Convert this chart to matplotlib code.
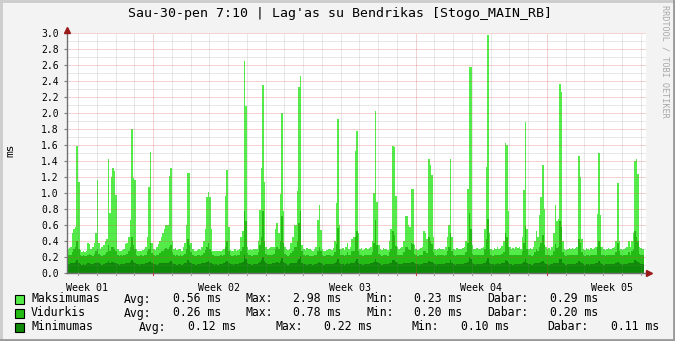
import numpy as np
import matplotlib
matplotlib.use("Agg")
import matplotlib.pyplot as plt
from matplotlib.patches import Rectangle
from matplotlib.lines import Line2D

# values every 2 hours (12 per day), one day per line
maksimumas = [
    0.30, 0.31, 0.33, 0.50, 0.55, 0.57, 1.59, 1.14, 0.29, 0.26, 0.27, 0.26,
    0.28, 0.37, 0.36, 0.30, 0.32, 0.38, 0.50, 1.16, 0.38, 0.30, 0.32, 0.35,
    0.40, 0.42, 1.43, 0.75, 1.20, 1.31, 1.28, 0.97, 0.30, 0.27, 0.28, 0.29,
    0.30, 0.36, 0.38, 0.45, 0.66, 1.80, 1.19, 1.16, 0.30, 0.27, 0.28, 0.28,
    0.29, 0.30, 0.32, 0.45, 1.07, 1.51, 0.38, 0.30, 0.29, 0.33, 0.36, 0.40,
    0.45, 0.50, 0.55, 0.60, 0.60, 1.21, 1.31, 0.40, 0.30, 0.31, 0.29, 0.30,
    0.30, 0.28, 0.33, 0.38, 0.60, 1.25, 1.25, 0.38, 0.30, 0.28, 0.27, 0.29,
    0.30, 0.29, 0.33, 0.40, 0.55, 0.95, 1.01, 0.95, 0.55, 0.28, 0.27, 0.28,
    0.28, 0.27, 0.28, 0.29, 0.30, 0.96, 1.29, 0.58, 0.29, 0.28, 0.28, 0.30,
    0.28, 0.29, 0.30, 0.45, 0.52, 2.65, 2.09, 0.32, 0.29, 0.30, 0.29, 0.30,
    0.30, 0.30, 0.40, 0.79, 1.31, 2.35, 1.14, 0.33, 0.30, 0.31, 0.32, 0.33,
    0.33, 0.55, 0.62, 0.50, 0.99, 2.00, 0.77, 0.33, 0.30, 0.29, 0.30, 0.38,
    0.45, 0.60, 0.60, 1.02, 2.32, 2.46, 0.35, 0.30, 0.29, 0.31, 0.30, 0.30,
    0.29, 0.28, 0.30, 0.32, 0.66, 0.85, 0.54, 0.30, 0.28, 0.28, 0.29, 0.30,
    0.30, 0.29, 0.31, 0.40, 0.88, 1.93, 0.60, 0.30, 0.31, 0.29, 0.33, 0.38,
    0.30, 0.33, 0.42, 0.45, 1.53, 1.77, 0.50, 0.30, 0.31, 0.29, 0.30, 0.31,
    0.30, 0.31, 0.33, 0.40, 1.00, 2.03, 0.89, 0.35, 0.30, 0.29, 0.31, 0.30,
    0.30, 0.29, 0.40, 0.55, 1.59, 1.57, 0.96, 0.32, 0.30, 0.31, 0.33, 0.40,
    0.71, 0.71, 0.60, 0.58, 1.05, 1.05, 0.35, 0.30, 0.29, 0.30, 0.31, 0.33,
    0.52, 0.50, 0.42, 1.42, 1.35, 1.23, 0.45, 0.30, 0.29, 0.30, 0.31, 0.30,
    0.30, 0.29, 0.32, 0.45, 0.60, 1.42, 0.45, 0.30, 0.29, 0.31, 0.30, 0.30,
    0.30, 0.31, 0.33, 0.40, 1.05, 2.57, 2.57, 0.35, 0.30, 0.30, 0.31, 0.30,
    0.30, 0.31, 0.33, 0.55, 1.32, 2.98, 0.50, 0.30, 0.29, 0.31, 0.30, 0.32,
    0.30, 0.31, 0.34, 0.40, 1.63, 1.60, 0.78, 0.32, 0.30, 0.31, 0.30, 0.33,
    0.31, 0.32, 0.30, 0.45, 1.04, 1.89, 0.55, 0.30, 0.31, 0.30, 0.33, 0.40,
    0.52, 0.45, 0.73, 0.95, 1.35, 0.80, 0.33, 0.30, 0.31, 0.29, 0.33, 0.50,
    0.85, 0.65, 0.67, 2.36, 2.26, 0.40, 0.30, 0.29, 0.30, 0.31, 0.30, 0.31,
    0.30, 0.31, 0.33, 1.46, 1.20, 0.42, 0.30, 0.29, 0.31, 0.30, 0.29, 0.31,
    0.30, 0.31, 0.33, 0.74, 1.50, 0.72, 0.32, 0.30, 0.29, 0.30, 0.31, 0.30,
    0.30, 0.31, 0.33, 0.40, 1.12, 0.40, 0.30, 0.29, 0.30, 0.31, 0.33, 0.40,
    0.33, 0.40, 0.50, 1.40, 1.43, 1.24, 0.33, 0.31, 0.30,
]

vidurkis = [
    0.22, 0.23, 0.22, 0.26, 0.30, 0.33, 0.40, 0.30, 0.22, 0.21, 0.22, 0.21,
    0.21, 0.23, 0.24, 0.22, 0.21, 0.24, 0.27, 0.30, 0.24, 0.22, 0.21, 0.23,
    0.24, 0.26, 0.35, 0.28, 0.32, 0.33, 0.30, 0.27, 0.22, 0.21, 0.22, 0.21,
    0.22, 0.23, 0.24, 0.27, 0.33, 0.45, 0.35, 0.30, 0.22, 0.21, 0.21, 0.22,
    0.21, 0.22, 0.23, 0.27, 0.30, 0.38, 0.25, 0.22, 0.21, 0.22, 0.23, 0.25,
    0.27, 0.28, 0.30, 0.31, 0.30, 0.33, 0.35, 0.26, 0.22, 0.21, 0.22, 0.21,
    0.22, 0.21, 0.22, 0.24, 0.30, 0.42, 0.35, 0.26, 0.22, 0.21, 0.21, 0.22,
    0.22, 0.21, 0.23, 0.25, 0.29, 0.33, 0.38, 0.30, 0.26, 0.22, 0.21, 0.21,
    0.21, 0.21, 0.22, 0.21, 0.22, 0.32, 0.40, 0.28, 0.22, 0.21, 0.21, 0.22,
    0.21, 0.22, 0.22, 0.28, 0.33, 0.78, 0.65, 0.25, 0.22, 0.22, 0.21, 0.22,
    0.22, 0.22, 0.26, 0.35, 0.45, 0.77, 0.40, 0.24, 0.22, 0.22, 0.23, 0.23,
    0.24, 0.30, 0.33, 0.30, 0.40, 0.71, 0.38, 0.24, 0.22, 0.21, 0.22, 0.25,
    0.28, 0.33, 0.33, 0.40, 0.62, 0.77, 0.27, 0.22, 0.21, 0.22, 0.22, 0.21,
    0.21, 0.21, 0.22, 0.23, 0.28, 0.32, 0.27, 0.22, 0.21, 0.21, 0.22, 0.22,
    0.22, 0.21, 0.22, 0.26, 0.36, 0.56, 0.30, 0.22, 0.22, 0.21, 0.23, 0.26,
    0.22, 0.23, 0.27, 0.28, 0.45, 0.52, 0.28, 0.22, 0.22, 0.21, 0.22, 0.22,
    0.22, 0.22, 0.23, 0.26, 0.38, 0.66, 0.35, 0.24, 0.22, 0.21, 0.22, 0.22,
    0.22, 0.21, 0.26, 0.30, 0.52, 0.48, 0.34, 0.23, 0.22, 0.22, 0.23, 0.26,
    0.33, 0.33, 0.30, 0.29, 0.38, 0.36, 0.24, 0.22, 0.21, 0.22, 0.22, 0.23,
    0.28, 0.27, 0.25, 0.45, 0.40, 0.36, 0.26, 0.22, 0.21, 0.22, 0.22, 0.22,
    0.22, 0.21, 0.23, 0.27, 0.32, 0.50, 0.27, 0.22, 0.21, 0.22, 0.22, 0.22,
    0.22, 0.22, 0.23, 0.26, 0.38, 0.75, 0.55, 0.24, 0.22, 0.22, 0.22, 0.22,
    0.22, 0.22, 0.23, 0.30, 0.42, 0.68, 0.30, 0.22, 0.21, 0.22, 0.22, 0.23,
    0.22, 0.22, 0.24, 0.26, 0.50, 0.45, 0.33, 0.23, 0.22, 0.22, 0.22, 0.23,
    0.22, 0.23, 0.22, 0.27, 0.38, 0.59, 0.30, 0.22, 0.22, 0.21, 0.23, 0.26,
    0.30, 0.27, 0.33, 0.38, 0.48, 0.35, 0.23, 0.22, 0.22, 0.21, 0.23, 0.28,
    0.36, 0.31, 0.32, 0.65, 0.58, 0.26, 0.22, 0.21, 0.22, 0.22, 0.22, 0.22,
    0.22, 0.22, 0.23, 0.42, 0.38, 0.26, 0.22, 0.21, 0.22, 0.22, 0.21, 0.22,
    0.22, 0.22, 0.23, 0.32, 0.40, 0.33, 0.23, 0.22, 0.21, 0.22, 0.22, 0.22,
    0.22, 0.22, 0.23, 0.26, 0.37, 0.27, 0.22, 0.21, 0.22, 0.22, 0.23, 0.26,
    0.23, 0.27, 0.30, 0.52, 0.45, 0.40, 0.24, 0.22, 0.22,
]

minimumas = [
    0.11, 0.11, 0.12, 0.12, 0.13, 0.14, 0.16, 0.13, 0.11, 0.10, 0.11, 0.10,
    0.11, 0.12, 0.12, 0.11, 0.11, 0.12, 0.13, 0.14, 0.12, 0.11, 0.10, 0.11,
    0.12, 0.12, 0.15, 0.13, 0.14, 0.14, 0.13, 0.12, 0.11, 0.10, 0.11, 0.11,
    0.11, 0.12, 0.12, 0.12, 0.14, 0.16, 0.14, 0.13, 0.11, 0.11, 0.10, 0.11,
    0.11, 0.11, 0.12, 0.13, 0.14, 0.15, 0.12, 0.11, 0.11, 0.10, 0.11, 0.12,
    0.12, 0.13, 0.13, 0.13, 0.12, 0.14, 0.15, 0.12, 0.11, 0.11, 0.10, 0.11,
    0.11, 0.10, 0.11, 0.12, 0.13, 0.16, 0.14, 0.12, 0.11, 0.11, 0.10, 0.11,
    0.11, 0.11, 0.12, 0.12, 0.13, 0.14, 0.15, 0.13, 0.12, 0.11, 0.10, 0.11,
    0.10, 0.11, 0.11, 0.11, 0.12, 0.14, 0.15, 0.13, 0.11, 0.11, 0.10, 0.11,
    0.11, 0.11, 0.12, 0.13, 0.14, 0.22, 0.18, 0.12, 0.11, 0.11, 0.10, 0.11,
    0.11, 0.11, 0.12, 0.14, 0.16, 0.20, 0.15, 0.12, 0.11, 0.11, 0.11, 0.12,
    0.12, 0.13, 0.14, 0.13, 0.15, 0.19, 0.14, 0.12, 0.11, 0.10, 0.11, 0.12,
    0.12, 0.13, 0.13, 0.15, 0.18, 0.21, 0.13, 0.11, 0.11, 0.10, 0.11, 0.11,
    0.11, 0.10, 0.11, 0.11, 0.12, 0.14, 0.12, 0.11, 0.10, 0.11, 0.11, 0.11,
    0.11, 0.11, 0.11, 0.12, 0.14, 0.17, 0.13, 0.11, 0.11, 0.10, 0.11, 0.12,
    0.11, 0.12, 0.12, 0.13, 0.15, 0.17, 0.13, 0.11, 0.11, 0.10, 0.11, 0.11,
    0.11, 0.11, 0.12, 0.12, 0.14, 0.18, 0.14, 0.12, 0.11, 0.10, 0.11, 0.11,
    0.11, 0.11, 0.12, 0.13, 0.16, 0.16, 0.14, 0.12, 0.11, 0.11, 0.11, 0.12,
    0.13, 0.13, 0.13, 0.12, 0.14, 0.14, 0.12, 0.11, 0.11, 0.10, 0.11, 0.11,
    0.12, 0.12, 0.12, 0.15, 0.14, 0.14, 0.12, 0.11, 0.10, 0.11, 0.11, 0.11,
    0.11, 0.11, 0.12, 0.12, 0.13, 0.16, 0.12, 0.11, 0.10, 0.11, 0.11, 0.11,
    0.11, 0.11, 0.12, 0.12, 0.14, 0.20, 0.17, 0.12, 0.11, 0.10, 0.11, 0.11,
    0.11, 0.11, 0.12, 0.13, 0.15, 0.19, 0.13, 0.11, 0.11, 0.10, 0.11, 0.12,
    0.11, 0.11, 0.12, 0.12, 0.16, 0.15, 0.13, 0.11, 0.11, 0.10, 0.11, 0.11,
    0.11, 0.11, 0.11, 0.12, 0.14, 0.17, 0.13, 0.11, 0.11, 0.10, 0.11, 0.12,
    0.12, 0.12, 0.13, 0.14, 0.15, 0.13, 0.11, 0.11, 0.10, 0.11, 0.11, 0.12,
    0.13, 0.12, 0.13, 0.18, 0.17, 0.12, 0.11, 0.10, 0.11, 0.11, 0.11, 0.11,
    0.11, 0.11, 0.12, 0.15, 0.14, 0.12, 0.11, 0.10, 0.11, 0.11, 0.10, 0.11,
    0.11, 0.11, 0.12, 0.13, 0.15, 0.13, 0.11, 0.10, 0.11, 0.11, 0.11, 0.11,
    0.11, 0.11, 0.11, 0.12, 0.14, 0.12, 0.11, 0.10, 0.11, 0.11, 0.11, 0.12,
    0.12, 0.12, 0.13, 0.16, 0.15, 0.14, 0.12, 0.11, 0.11,
]

week_labels = ["Week 01", "Week 02", "Week 03", "Week 04", "Week 05"]
series_names = ["Maksimumas", "Vidurkis", "Minimumas"]
stat_avg = ["0.56 ms", "0.26 ms", "0.12 ms"]
stat_max = ["2.98 ms", "0.78 ms", "0.22 ms"]
stat_min = ["0.23 ms", "0.20 ms", "0.10 ms"]
stat_now = ["0.29 ms", "0.20 ms", "0.11 ms"]

title = "Sau-30-pen 7:10 | Lag'as su Bendrikas [Stogo_MAIN_RB]"
colors = ["#54EC48", "#24BC14", "#0E8A08"]

W, H = 675, 341
mono = "DejaVu Sans Mono"

def fx(px):
    return px / W

def fy(py):
    return 1 - py / H

fig = plt.figure(figsize=(W / 100, H / 100), dpi=100, facecolor="#F3F3F3")
ax = fig.add_axes([fx(67), fy(273), 579 / W, 240 / H])
ax.set_facecolor("white")

steps_per_day = 12
n = len(maksimumas)
edges = np.arange(n + 1) / steps_per_day
for vals, col in zip([maksimumas, vidurkis, minimumas], colors):
    ax.stairs(vals, edges, fill=True, color=col, baseline=0, zorder=2, lw=0,
              antialiased=False)

xmax = 579 / 18.75
ax.set_xlim(0, xmax)
ax.set_ylim(0, 3.0)

# grid drawn over the areas, like rrdtool does
minor_col = (0.5, 0.5, 0.5, 0.35)
major_col = (0.85, 0.3, 0.3, 0.5)
dots = (0, (1, 1))
week0 = (153 - 67) / 18.75
for y in np.arange(0.1, 3.01, 0.1):
    major = round(y * 10) % 2 == 0
    ax.axhline(y, color=major_col if major else minor_col, lw=0.72, ls=dots, zorder=3)
days = np.arange(week0 - 4, xmax, 1.0)
for d in days:
    is_week = abs((d - week0) % 7) < 1e-6
    ax.axvline(d, color=major_col if is_week else minor_col, lw=0.72, ls=dots, zorder=3)

for s in ax.spines.values():
    s.set_visible(False)

ax.set_yticks(np.arange(0, 3.01, 0.2))
ax.set_yticklabels([f"{v:.1f}" for v in np.arange(0, 3.01, 0.2)], fontfamily=mono, fontsize=7)
ax.tick_params(axis="y", length=2, width=0.8, color="#808080", pad=4)
ax.set_xticks([])

# week labels
for i, lab in enumerate(week_labels):
    ax.text(week0 - 3.5 + 7 * i, -0.04, lab, transform=ax.get_xaxis_transform(),
            ha="center", va="top", fontfamily=mono, fontsize=7.2)

# axis lines with arrows
ax.add_line(Line2D([0, 0], [0, 3.06], color="#707070", lw=1, clip_on=False, zorder=4))
ax.add_line(Line2D([0, 31.0], [0, 0], color="#707070", lw=1, clip_on=False, zorder=4))
ax.plot([0], [3.04], marker="^", color="#9A1A1A", ms=5, clip_on=False, zorder=5)
ax.plot([31.02], [0], marker=">", color="#9A1A1A", ms=5, clip_on=False, zorder=5)
for d in days:
    is_week = abs((d - week0) % 7) < 1e-6
    ax.add_line(Line2D([d, d], [0, -0.025], color="#C04040" if is_week else "#A0A0A0",
                       lw=0.8, clip_on=False, zorder=4))

fig.text(fx(340.5), fy(13), title, ha="center", va="center", fontfamily=mono, fontsize=9.5)
fig.text(fx(10), fy(150), "ms", ha="center", va="center", rotation=90, fontfamily=mono, fontsize=8)
fig.text(fx(665), fy(5), "RRDTOOL / TOBI OETIKER", ha="center", va="top", rotation=270,
         fontfamily=mono, fontsize=6.1, color="#A8A8A8")

# legend
rows_y = [299, 313, 327]
col_x = [
    [124, 173, 245, 293, 366, 414, 487, 550],
    [124, 173, 245, 293, 366, 414, 487, 550],
    [139, 188, 276, 324, 412, 461, 547, 611],
]
for i in range(3):
    y = rows_y[i]
    fig.patches.append(Rectangle((fx(15), fy(y + 4.5)), 9 / W, 9 / H, transform=fig.transFigure,
                                 facecolor=colors[i], edgecolor="black", lw=0.8))
    fig.text(fx(31), fy(y), series_names[i], ha="left", va="center", fontfamily=mono, fontsize=8.3)
    items = ["Avg:", stat_avg[i], "Max:", stat_max[i], "Min:", stat_min[i], "Dabar:", stat_now[i]]
    for xx, t in zip(col_x[i], items):
        fig.text(fx(xx), fy(y), t, ha="left", va="center", fontfamily=mono, fontsize=8.3)

# frame
fig.add_artist(Line2D([0, 1], [fy(0.8), fy(0.8)], transform=fig.transFigure, color="#CBCBCB", lw=2))
fig.add_artist(Line2D([fx(0.8), fx(0.8)], [0, 1], transform=fig.transFigure, color="#CBCBCB", lw=2))
fig.add_artist(Line2D([0, 1], [fy(340), fy(340)], transform=fig.transFigure, color="#999999", lw=2))
fig.add_artist(Line2D([fx(674), fx(674)], [0, 1], transform=fig.transFigure, color="#999999", lw=2))

fig.savefig("out.png", dpi=100, facecolor=fig.get_facecolor())
